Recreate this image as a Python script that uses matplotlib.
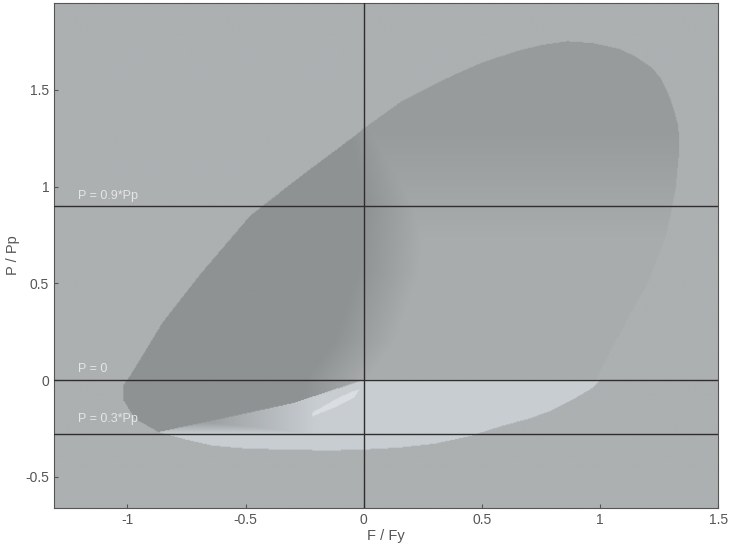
import numpy as np
import matplotlib as mpl
from matplotlib import pyplot as plt
from matplotlib.path import Path

mpl.rcParams['font.family'] = ['Liberation Sans', 'DejaVu Sans']

# outline of the dark region (F/Fy, P/Pp)
blob_x = [-0.99, -0.85, -0.69, -0.48, -0.27, -0.04, 0.00, 0.16, 0.37, 0.50, 0.65, 0.75, 0.86,
          0.97, 1.08, 1.15, 1.22, 1.26, 1.29, 1.31, 1.33, 1.335, 1.32, 1.28, 1.20, 1.10, 1.00,
          0.97, 0.90, 0.79, 0.70, 0.58, 0.45, 0.30, 0.15, 0.00, -0.15, -0.35, -0.50, -0.64,
          -0.75, -0.87, -0.97, -1.02, -1.02]
blob_y = [0.02, 0.30, 0.55, 0.85, 1.05, 1.26, 1.30, 1.44, 1.57, 1.64, 1.70, 1.73, 1.75,
          1.74, 1.71, 1.67, 1.61, 1.55, 1.47, 1.40, 1.31, 1.20, 1.00, 0.75, 0.50, 0.28, 0.05,
          -0.04, -0.09, -0.16, -0.20, -0.24, -0.29, -0.33, -0.35, -0.36, -0.365, -0.36, -0.355,
          -0.34, -0.31, -0.27, -0.20, -0.10, -0.03]

# right edge of the darker band, by height
band_y = [-0.15, 0.00, 0.20, 0.55, 0.90, 1.20, 1.40]
band_x = [-0.10, -0.10, 0.02, 0.12, 0.15, 0.10, 0.05]

# light crescent below P = 0
light_x = [-0.87, -0.60, -0.30, -0.10, 0.00, 1.00, 0.97, 0.90, 0.79, 0.70, 0.58, 0.45, 0.30,
           0.15, 0.00, -0.15, -0.35, -0.50, -0.64, -0.75, -0.87]
light_y = [-0.27, -0.20, -0.12, -0.04, 0.00, 0.00, -0.04, -0.09, -0.16, -0.20, -0.24, -0.29,
           -0.33, -0.35, -0.36, -0.365, -0.36, -0.355, -0.34, -0.31, -0.27]

# bright streak near the origin
streak_x = [-0.22, -0.12, -0.05, -0.02, -0.04, -0.12, -0.22]
streak_y = [-0.17, -0.10, -0.06, -0.05, -0.09, -0.14, -0.19]

hlines = [0.9, 0.0, -0.28]
hlabels = ['P = 0.9*Pp', 'P = 0', 'P = 0.3*Pp']
hlabel_y = [0.95, 0.06, -0.20]

xticks = [-1, -0.5, 0, 0.5, 1, 1.5]
xticklabels = ['-1', '-0.5', '0', '0.5', '1', '1.5']
yticks = [-0.5, 0, 0.5, 1, 1.5]
yticklabels = ['-0.5', '0', '0.5', '1', '1.5']

xlim = (-1.31, 1.5)
ylim = (-0.66, 1.95)

# shaded image of the regions
nx, ny = 700, 520
gx = np.linspace(xlim[0], xlim[1], nx)
gy = np.linspace(ylim[0], ylim[1], ny)
X, Y = np.meshgrid(gx, gy)
pts = np.column_stack([X.ravel(), Y.ravel()])
in_blob = Path(np.column_stack([blob_x, blob_y])).contains_points(pts).reshape(X.shape)
in_light = Path(np.column_stack([light_x, light_y])).contains_points(pts).reshape(X.shape)
in_streak = Path(np.column_stack([streak_x, streak_y])).contains_points(pts).reshape(X.shape)

bg_col = np.array([172, 176, 177]) / 255
light_col = np.array([200, 205, 210]) / 255
streak_col = np.array([218, 222, 227]) / 255

top_shade = np.clip((Y - 0.6) / 0.7, 0, 1) * 0.7
xb = np.interp(Y, band_y, band_x)
band_shade = np.clip((xb - X) / 0.3 + 0.5, 0, 1)
dark = np.maximum(0.12, np.maximum(top_shade, band_shade)) * in_blob
img = bg_col[None, None, :] - dark[..., None] * (30 / 255)

lt = np.maximum(np.clip((X + 0.8) / 0.6, 0, 1), np.clip((-0.2 - Y) / 0.08, 0, 1)) * in_light
img = img * (1 - lt[..., None]) + light_col[None, None, :] * lt[..., None]
img[in_streak] = streak_col

fig = plt.figure(figsize=(7.3, 5.52), dpi=100)
ax = fig.add_axes([0.074, 0.08, 0.910, 0.915])
ax.imshow(img, origin='lower', extent=(xlim[0], xlim[1], ylim[0], ylim[1]),
          aspect='auto', interpolation='bilinear', zorder=1)

for yv, lab, ly in zip(hlines, hlabels, hlabel_y):
    ax.axhline(yv, color='#2e2e2e', lw=1.0, zorder=5)
    ax.text(-1.21, ly, lab, color='#e4e6e8', fontsize=9, va='center', ha='left', zorder=6)
ax.axvline(0, color='#2e2e2e', lw=1.0, zorder=5)

ax.set_xlim(*xlim)
ax.set_ylim(*ylim)
ax.set_xticks(xticks)
ax.set_xticklabels(xticklabels)
ax.set_yticks(yticks)
ax.set_yticklabels(yticklabels)
ax.tick_params(direction='in', length=3, colors='#555555', labelsize=10, labelcolor='#555555')
for sp in ax.spines.values():
    sp.set_color('#555555')
    sp.set_linewidth(0.8)

ax.set_xlabel('F / Fy', fontsize=10.5, color='#555555', labelpad=2)
ax.set_ylabel('P / Pp', fontsize=10.5, color='#555555', labelpad=4)

fig.savefig('out.png', dpi=100)
